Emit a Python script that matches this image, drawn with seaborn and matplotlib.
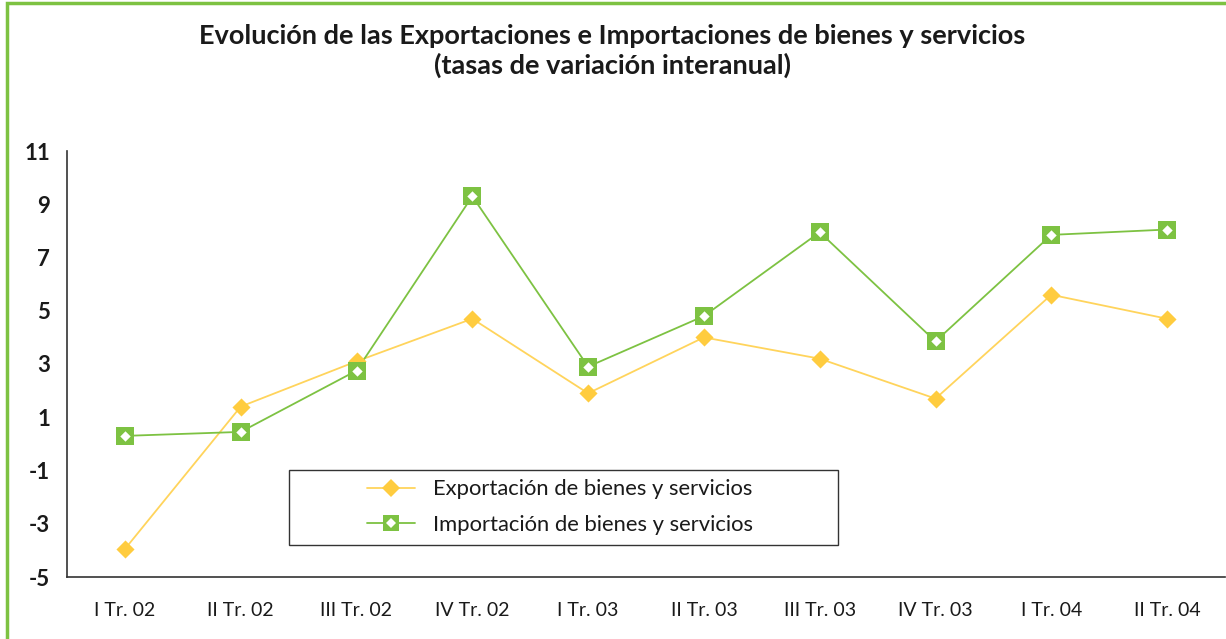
import matplotlib
matplotlib.use("Agg")
import matplotlib.pyplot as plt
import seaborn as sns
import pandas as pd
from matplotlib.lines import Line2D
from matplotlib.patches import Rectangle

categories = ["I Tr. 02", "II Tr. 02", "III Tr. 02", "IV Tr. 02", "I Tr. 03",
              "II Tr. 03", "III Tr. 03", "IV Tr. 03", "I Tr. 04", "II Tr. 04"]
exportacion = [-3.95, 1.4, 3.1, 4.7, 1.9, 4.0, 3.2, 1.7, 5.6, 4.7]
importacion = [0.3, 0.45, 2.75, 9.3, 2.9, 4.8, 7.95, 3.85, 7.85, 8.05]
yticks = [-5, -3, -1, 1, 3, 5, 7, 9, 11]
ytick_labels = ["-5", "-3", "-1", "1", "3", "5", "7", "9", "11"]
title = "Evolución de las Exportaciones e Importaciones de bienes y servicios\n(tasas de variación interanual)"
label_exp = "Exportación de bienes y servicios"
label_imp = "Importación de bienes y servicios"

sns.set_theme(style="white")
plt.rcParams['font.family'] = ['Lato', 'DejaVu Sans']

YELLOW = "#FFCC3F"
YELLOW_LINE = "#FFD45C"
GREEN = "#7DC242"
W, H = 1226, 639

df = pd.DataFrame({"x": list(range(len(categories))) * 2,
                   "y": exportacion + importacion,
                   "serie": [label_exp] * len(categories) + [label_imp] * len(categories)})

fig = plt.figure(figsize=(W / 100, H / 100), dpi=100)
ax = fig.add_axes([67 / W, 1 - 577 / H, (1225 - 67) / W, (577 - 151) / H])

sns.lineplot(data=df, x="x", y="y", hue="serie", palette={label_exp: YELLOW_LINE, label_imp: GREEN},
             ax=ax, legend=False, linewidth=1.3, sort=False)
dexp = df[df.serie == label_exp]
dimp = df[df.serie == label_imp]
ax.scatter(dexp.x, dexp.y, marker="D", s=85, color=YELLOW, zorder=4, linewidths=0)
ax.scatter(dimp.x, dimp.y, marker="s", s=150, color=GREEN, zorder=4, linewidths=0)
ax.scatter(dimp.x, dimp.y, marker="D", s=28, color="white", zorder=5, linewidths=0)

ax.set_xlim(-0.5, len(categories) - 0.5)
ax.set_ylim(-5, 11)
ax.set_yticks(yticks)
ax.set_yticklabels(ytick_labels, fontsize=16, fontweight="bold", color="#1a1a1a")
ax.set_xticks(range(len(categories)))
ax.set_xticklabels(categories, fontsize=14, color="#1a1a1a")
ax.set_xticks([i + 0.5 for i in range(len(categories) - 1)], minor=True)
ax.tick_params(axis="x", which="major", length=0, pad=18)
ax.tick_params(axis="x", which="minor", length=4, width=1, color="#333333", direction="out")
ax.tick_params(axis="y", which="major", length=3.6, width=1, color="#333333", direction="out", pad=8.6)
ax.set_xlabel("")
ax.set_ylabel("")
for s in ["top", "right"]:
    ax.spines[s].set_visible(False)
for s in ["left", "bottom"]:
    ax.spines[s].set_color("#333333")
    ax.spines[s].set_linewidth(1.2)

# legend box
ax.add_patch(Rectangle((289, H - 545), 838 - 289, 545 - 470, transform=None,
                       fill=True, facecolor="white", edgecolor="#333333", linewidth=1.0, zorder=6))

h_exp = Line2D([], [], color=YELLOW_LINE, linewidth=1.3, marker="D", markersize=9,
               markerfacecolor=YELLOW, markeredgewidth=0)
h_imp1 = Line2D([], [], color=GREEN, linewidth=1.3, marker="s", markersize=11,
                markerfacecolor=GREEN, markeredgewidth=0)
h_imp2 = Line2D([], [], linestyle="none", marker="D", markersize=5,
                markerfacecolor="white", markeredgewidth=0)
leg = ax.legend([h_exp, (h_imp1, h_imp2)], [label_exp, label_imp],
                loc="center left", bbox_to_anchor=((367 - 67) / 1158, (577 - 507) / 426),
                fontsize=15.8, frameon=False, borderpad=0, handlelength=2.2,
                handletextpad=0.8, labelspacing=0.7, borderaxespad=0)
leg.set_zorder(7)
for t in leg.get_texts():
    t.set_color("#1a1a1a")

fig.text(612 / W, 1 - 51 / H, title, ha="center", va="center", fontsize=19.5,
         fontweight="bold", color="#1a1a1a", linespacing=1.2)

fig.patches.append(Rectangle((7 / W, -0.1), 1.2, 1 - 3 / H + 0.1, transform=fig.transFigure,
                             fill=False, edgecolor=GREEN, linewidth=2.5))

fig.savefig("out.png", dpi=100)
